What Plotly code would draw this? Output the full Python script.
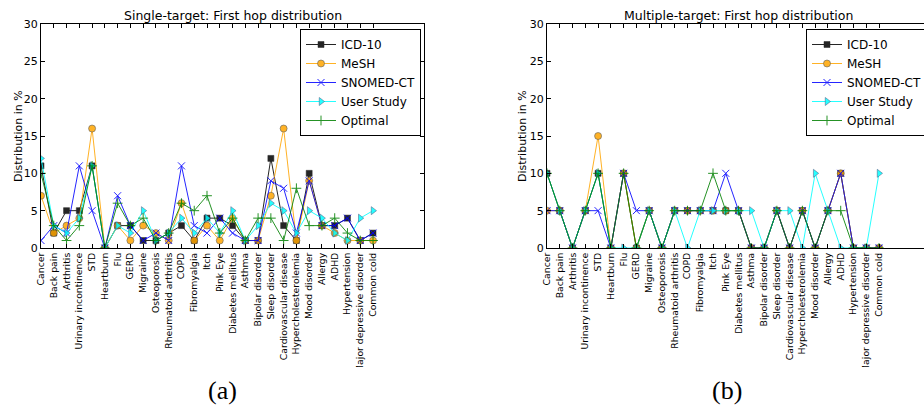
import plotly.graph_objects as go

categories = ["Cancer", "Back pain", "Arthritis", "Urinary incontinence", "STD", "Heartburn",
              "Flu", "GERD", "Migraine", "Osteoporosis", "Rheumatoid arthritis", "COPD",
              "Fibromyalgia", "Itch", "Pink Eye", "Diabetes mellitus", "Asthma",
              "Bipolar disorder", "Sleep disorder", "Cardiovascular disease",
              "Hypercholesterolemia", "Mood disorder", "Allergy", "ADHD", "Hypertension",
              "Major depressive disorder", "Common cold"]

# Single-target
icd_single = [11, 2, 5, 5, 11, 0, 3, 3, 1, 1, 2, 3, 1, 4, 4, 3, 1, 1, 12, 3, 1, 10, 3, 3, 4, 1, 2]
mesh_single = [7, 2, 3, 4, 16, 0, 3, 1, 3, 2, 1, 6, 1, 3, 1, 4, 1, 1, 7, 16, 1, 9, 3, 2, 1, 1, 1]
snomed_single = [1, 3, 2, 11, 5, 0, 7, 3, 1, 2, 1, 11, 3, 2, 4, 2, 1, 1, 9, 8, 2, 9, 3, 3, 4, 1, 2]
user_single = [12, 3, 2, 4, 11, 0, 3, 2, 5, 1, 2, 4, 2, 4, 2, 5, 1, 3, 6, 5, 2, 5, 4, 2, 1, 4, 5]
optimal_single = [10, 3, 1, 3, 11, 0, 6, 3, 4, 1, 2, 6, 5, 7, 2, 4, 1, 4, 4, 1, 8, 3, 3, 4, 2, 1, 1]

# Multiple-target
icd_multi = [10, 5, 0, 5, 10, 0, 10, 0, 5, 0, 5, 5, 5, 5, 5, 5, 0, 0, 5, 0, 5, 0, 5, 10, 0, 0, 0]
mesh_multi = [5, 5, 0, 5, 15, 0, 10, 0, 5, 0, 5, 5, 5, 5, 5, 5, 0, 0, 5, 0, 5, 0, 5, 10, 0, 0, 0]
snomed_multi = [5, 5, 0, 5, 5, 0, 10, 5, 5, 0, 5, 5, 5, 5, 10, 5, 0, 0, 5, 0, 5, 0, 5, 10, 0, 0, 0]
user_multi = [10, 5, 0, 5, 10, 0, 0, 0, 5, 0, 5, 0, 5, 5, 5, 5, 5, 0, 5, 5, 0, 10, 5, 0, 0, 0, 10]
optimal_multi = [10, 5, 0, 5, 10, 0, 10, 0, 5, 0, 5, 5, 5, 10, 5, 5, 0, 0, 5, 0, 5, 0, 5, 5, 0, 0, 0]

series_names = ["ICD-10", "MeSH", "SNOMED-CT", "User Study", "Optimal"]
yticks = [0, 5, 10, 15, 20, 25, 30]

W, H = 924, 409
FONT = "DejaVu Sans"

styles = {
    "ICD-10": dict(line=dict(color="black", width=1),
                   marker=dict(symbol="square", size=6, color="black", line=dict(color="black", width=0.5))),
    "MeSH": dict(line=dict(color="orange", width=1),
                 marker=dict(symbol="circle", size=7, color="orange", line=dict(color="#444", width=0.6))),
    "SNOMED-CT": dict(line=dict(color="blue", width=1),
                      marker=dict(symbol="x-thin", size=7, color="blue", line=dict(color="blue", width=1))),
    "User Study": dict(line=dict(color="cyan", width=1),
                       marker=dict(symbol="triangle-right", size=7, color="cyan", line=dict(color="#336", width=0.5))),
    "Optimal": dict(line=dict(color="green", width=1),
                    marker=dict(symbol="cross-thin", size=7, color="green", line=dict(color="green", width=1))),
}

x = list(range(len(categories)))
fig = go.Figure()

single = [icd_single, mesh_single, snomed_single, user_single, optimal_single]
multi = [icd_multi, mesh_multi, snomed_multi, user_multi, optimal_multi]

for name, vals in zip(series_names, single):
    fig.add_trace(go.Scatter(x=x, y=vals, name=name, mode="lines+markers", opacity=0.85,
                             xaxis="x", yaxis="y", legend="legend", **styles[name]))
for name, vals in zip(series_names, multi):
    fig.add_trace(go.Scatter(x=x, y=vals, name=name, mode="lines+markers", opacity=0.85,
                             xaxis="x2", yaxis="y2", legend="legend2", **styles[name]))

def px_x(p):
    return p / W

def px_y(p):
    return 1 - p / H

step = 12.77
l1, l2 = 41, 547
r1 = l1 + 30 * step
r2 = W
top, bottom = 24, 248

xa_common = dict(tickmode="array", tickvals=x, ticktext=categories, tickangle=-90,
                 ticks="inside", ticklen=4, tickcolor="black", showline=True, linecolor="black",
                 linewidth=1, showgrid=False, zeroline=False, automargin=False,
                 tickfont=dict(family=FONT, size=9.3, color="black"))
ya_common = dict(tickmode="array", tickvals=yticks, ticks="inside", ticklen=4, tickcolor="black",
                 showline=True, linecolor="black", linewidth=1, showgrid=False, zeroline=False,
                 automargin=False, range=[0, 30], tickfont=dict(family=FONT, size=11, color="black"))

fig.update_layout(
    width=W, height=H, margin=dict(l=0, r=0, t=0, b=0, autoexpand=False),
    paper_bgcolor="white", plot_bgcolor="white",
    font=dict(family=FONT, color="black"),
    xaxis=dict(domain=[px_x(l1), px_x(r1)], range=[0, 30], mirror="ticks", anchor="y", **xa_common),
    yaxis=dict(domain=[px_y(bottom), px_y(top)], mirror="ticks", anchor="x", **ya_common),
    xaxis2=dict(domain=[px_x(l2), px_x(r2)], range=[0, (r2 - l2) / step], mirror="ticks", anchor="y2", **xa_common),
    yaxis2=dict(domain=[px_y(bottom), px_y(top)], mirror=False, anchor="x2", **ya_common),
    legend=dict(x=px_x(300), y=px_y(29), xanchor="left", yanchor="top", bgcolor="white",
                bordercolor="black", borderwidth=1, font=dict(family=FONT, size=12, color="black"),
                tracegroupgap=0),
    legend2=dict(x=px_x(806), y=px_y(29), xanchor="left", yanchor="top", bgcolor="white",
                 bordercolor="black", borderwidth=1, font=dict(family=FONT, size=12, color="black"),
                 tracegroupgap=0),
    showlegend=True,
)

annotations = [
    dict(text="Single-target: First hop distribution", x=px_x((l1 + r1) / 2), y=px_y(15),
         xanchor="center", yanchor="middle",
         xref="paper", yref="paper", showarrow=False, font=dict(family=FONT, size=12.5)),
    dict(text="Multiple-target: First hop distribution", x=px_x((l2 + l2 + 30 * step) / 2), y=px_y(15),
         xanchor="center", yanchor="middle",
         xref="paper", yref="paper", showarrow=False, font=dict(family=FONT, size=12.5)),
    dict(text="Distribution in %", x=px_x(18), y=px_y((top + bottom) / 2), xref="paper", yref="paper",
         xanchor="center", yanchor="middle",
         showarrow=False, textangle=-90, font=dict(family=FONT, size=11)),
    dict(text="Distribution in %", x=px_x(522), y=px_y((top + bottom) / 2), xref="paper", yref="paper",
         xanchor="center", yanchor="middle",
         showarrow=False, textangle=-90, font=dict(family=FONT, size=11)),
    dict(text="(a)", x=px_x(222), y=px_y(390), xref="paper", yref="paper", showarrow=False,
         xanchor="center", yanchor="middle",
         font=dict(family="Liberation Serif", size=26)),
    dict(text="(b)", x=px_x(727), y=px_y(390), xref="paper", yref="paper", showarrow=False,
         xanchor="center", yanchor="middle",
         font=dict(family="Liberation Serif", size=26)),
]
fig.update_layout(annotations=annotations)

# clip long tick labels at the bottom like the original figure crop
fig.add_shape(type="rect", xref="paper", yref="paper", x0=0, x1=1, y0=px_y(376), y1=px_y(367),
              fillcolor="white", line=dict(width=0), layer="above")

fig.write_html("out.html")
